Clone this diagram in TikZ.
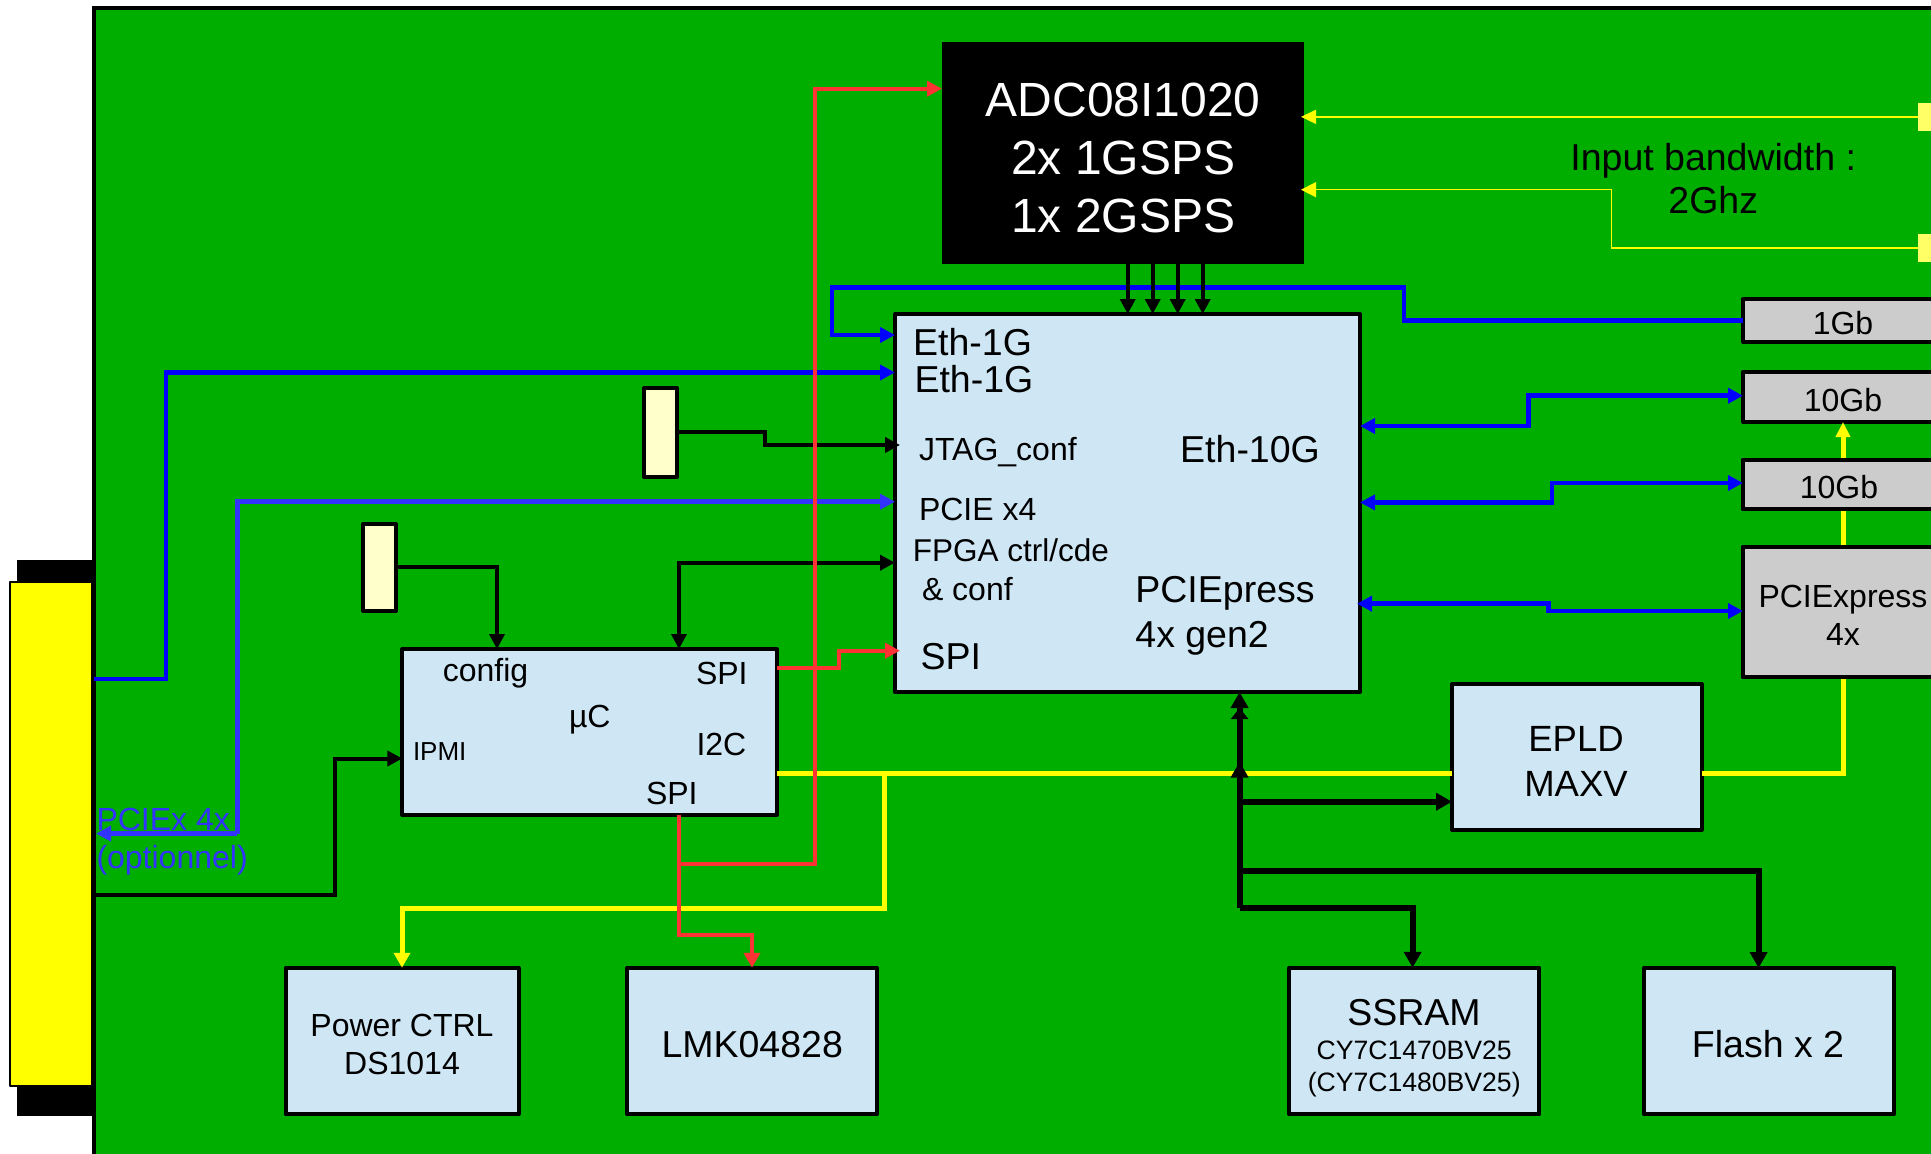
\documentclass[tikz,border=0pt]{standalone}
\usepackage{fontspec}
\setmainfont{Liberation Sans}
\usetikzlibrary{arrows.meta}
\definecolor{boardgreen}{HTML}{00AE00}
\definecolor{chipblue}{HTML}{CFE7F5}
\definecolor{portgrey}{HTML}{CCCCCC}
\definecolor{cfgyellow}{HTML}{FFFFCC}
\definecolor{sigyellow}{HTML}{FFFF00}
\definecolor{sqyellow}{HTML}{FFFF66}
\definecolor{purered}{HTML}{FF3333}
\definecolor{pureblue}{HTML}{0000FF}
\definecolor{softblue}{HTML}{3333FF}
\tikzset{
  x=1pt,y=-1pt,
  every node/.style={inner sep=0pt,outer sep=0pt},
  rectn/.style={draw=black,line width=4pt,line join=round,minimum width=#1},
  chip/.style={rectn=#1,fill=chipblue},
  port/.style={rectn=#1,fill=portgrey},
  cfgbox/.style={rectn=33,fill=cfgyellow},
  hgt/.style={minimum height=#1},
  fa/.style={font=\fontsize{37.5}{43}\selectfont},
  fb/.style={font=\fontsize{32}{37.5}\selectfont},
  fc/.style={font=\fontsize{26.6}{32}\selectfont},
  lw/.style={anchor=base west},
  lc/.style={anchor=base},
  tipS/.tip={Triangle[length=15pt,width=15pt]},
  tipB/.tip={Triangle[length=16pt,width=17pt]},
  wblue/.style={draw=pureblue,line width=4.5pt,line join=miter},
  wsoft/.style={draw=softblue,line width=5pt},
  wblack/.style={draw=black,line width=4pt},
  wbus/.style={draw=black,line width=6pt},
  wred/.style={draw=purered,line width=4pt},
  wyel/.style={draw=sigyellow,line width=5pt},
  wthin/.style={draw=sigyellow,line width=1.5pt},
}
\begin{document}
\begin{tikzpicture}
\useasboundingbox (0,0) rectangle (1931,1154);
\clip (0,0) rectangle (1931,1154);
% connector and board
\node[fill=black,minimum width=77,minimum height=556] (shell) at (55.5,838) {};
\node[draw=black,line width=2.5pt,line join=round,fill=sigyellow,minimum width=82,minimum height=504] (edge) at (51,834) {};
\node[draw=black,line width=4pt,fill=boardgreen,minimum width=1866,minimum height=1162.5] (board) at (1027,588.75) {};
% blocks
\node[chip=465,hgt=378] (fpga) at (1127.5,503) {};
\node[fill=black,minimum width=361.5,minimum height=222] (adc) at (1122.75,153) {};
\node[chip=374.3,hgt=166] (uc) at (589.5,732) {};
\node[cfgbox,hgt=89] (cfga) at (660.5,432.5) {};
\node[cfgbox,hgt=87] (cfgb) at (379.5,567.5) {};
\node[chip=233,hgt=146.5] (power) at (402,1041) {};
\node[chip=250,hgt=146.5] (lmk) at (752,1041) {};
\node[chip=250,hgt=146.5] (ssram) at (1414.4,1041) {};
\node[chip=250,hgt=146.5] (flash) at (1769,1041) {};
\node[chip=249.6,hgt=146] (epld) at (1576.8,757) {};
\node[port=202,hgt=43] (gba) at (1844,320.5) {};
\node[port=202,hgt=50] (gbb) at (1844,397) {};
\node[port=202,hgt=49] (gbc) at (1844,484.5) {};
\node[port=202,hgt=130] (pcix) at (1844,612) {};
\node[fill=sqyellow,minimum width=24,minimum height=28.5] (ina) at (1930,116.85) {};
\node[fill=sqyellow,minimum width=24,minimum height=28.5] (inb) at (1930,248) {};
% named junctions
\coordinate (trunk) at (1239.6,908);
\coordinate (redx) at (679,864.3);
\coordinate (yelx) at (884,773);
% yellow lines behind the ports
\draw[wyel,-{tipS[width=14pt]}] (epld.east |- yelx) -| (pcix.north -| 1843,0) -- (gbb.south -| 1843,0);
\draw[wyel] (uc.east |- yelx) -- (epld.west |- yelx);
\draw[wyel,-{tipS[width=16pt]}] (yelx) -- (884,908) -| (power.north);
\node[port=202,hgt=49] (gbcr) at (gbc) {};
\node[port=202,hgt=130] (pcixr) at (pcix) {};
% thin inputs
\draw[wthin,-{tipS[width=14pt]}] (ina.west) -- (1301,116.85);
\draw[wthin,-{tipS[width=15pt]}] (inb.west) -| (1611.6,189.7) -- (1301,189.7);
% blue
\draw[wblue,-{tipS}] (gba.west) -| (1404,287.7) -| (832,335) -- (fpga.west |- 0,335);
\draw[wblue,-{tipS}] (board.west |- 0,679) -| (166,372.5) -- (fpga.west |- 0,372.5);
\draw[wsoft,-{tipS}] (237,833.6) -- (96,833.6);
\draw[wsoft,-{tipS}] (237,833.6) |- (fpga.west |- 0,501.7);
\draw[wblue,{tipS}-{tipS}] (fpga.east |- 0,426) -| (1528.7,395.7) -- (gbb.west |- 0,395.7);
\draw[wblue,{tipS}-{tipS}] (fpga.east |- 0,502.4) -| (1552,483) -- (gbc.west |- 0,483);
\draw[wblue,{tipS}-{tipS}] (1357,603.7) -| (1548.7,611) -- (pcix.west |- 0,611);
% black
\foreach \px in {1127.7,1152.7,1177.7,1202.7}
  \draw[wblack,-{tipS}] (adc.south -| \px,0) -- (fpga.north -| \px,0);
\draw[wblack,-{tipS}] (cfga.east |- 0,432) -| (765,445) -- (900,445);
\draw[wblack,{tipS}-{tipS}] (uc.north -| 679,0) |- (fpga.west |- 0,562.7);
\draw[wblack,-{tipS}] (cfgb.east |- 0,567) -| (uc.north -| 497,0);
\draw[wblack,-{tipS}] (board.west |- 0,894.5) -| (334.5,758.5) -- (uc.west |- 0,758.5);
% bus
\draw[wbus,-{tipB}] (trunk) -- (1239.6,761.7);
\draw[wbus,-{tipB[length=11pt] tipB}] (1239.6,800) -- (fpga.south -| trunk);
\draw[wbus,-{tipB}] (1239.6,801.7) -- (epld.west |- 0,801.7);
\draw[wbus,-{tipB}] (1239.6,871) -| (1758.6,968);
\draw[wbus,-{tipB}] (trunk) -| (ssram.north -| 1412.6,0);
% red
\draw[wred,-{tipS[width=16pt]}] (uc.south -| redx) -- (679,935) -| (lmk.north);
\draw[wred,-{tipS}] (redx) -| (815,88.7) -- (adc.west |- 0,88.7);
\draw[wred,-{tipS}] (uc.east |- 0,667.7) -| (838.7,650.7) -- (900,650.7);
% text
\node[font=\fontsize{48}{58}\selectfont,text=white,align=center,lc] (adcl) at (1123.2,232.7) {ADC08I1020\\2x 1GSPS\\1x 2GSPS};
\node[fa,align=center,lc] (bw) at (1713.2,213.5) {Input bandwidth :\\2Ghz};
\node[fa,lw] (etha) at (913.2,355) {Eth-1G};
\node[fa,lw] (ethb) at (914.5,392.7) {Eth-1G};
\node[fb,lw] (jtag) at (919,460) {JTAG\_conf};
\node[fa,lw] (ethx) at (1180.2,462.7) {Eth-10G};
\node[fb,lw] (pcie) at (919,520) {PCIE x4};
\node[font=\fontsize{31.5}{37.5}\selectfont,lw] (ctrl) at (912.8,561.7) {FPGA ctrl/cde};
\node[fb,lw] (conf) at (922,600.3) {\& conf};
\node[fa,lw] (pcip) at (1135.4,602.7) {PCIEpress};
\node[fa,lw] (gen) at (1135.4,647.7) {4x gen2};
\node[fa,lw] (spif) at (920.5,669) {SPI};
\node[fb,lw] (cfgl) at (442.8,681) {config};
\node[fb,lw] (spia) at (696,684) {SPI};
\node[fb,lw] (mu) at (569,727.7) {µC};
\node[fb,lw] (itc) at (696.5,755) {I2C};
\node[fb,lw] (spib) at (646,804) {SPI};
\node[font=\fontsize{26}{30}\selectfont,lw] (ipmi) at (413,760) {IPMI};
\node[fb,align=center,lc] (powl) at (402,1074.4) {Power CTRL\\DS1014};
\node[fa,lc] (lmkl) at (752.2,1057) {LMK04828};
\node[fa,lc] (ssr) at (1414,1025) {SSRAM};
\node[fc,align=center,lc] (cyp) at (1414.2,1091) {CY7C1470BV25\\(CY7C1480BV25)};
\node[fa,lc] (fll) at (1768,1057) {Flash x 2};
\node[font=\fontsize{36.5}{45}\selectfont,align=center,lc] (epl) at (1576,796.7) {EPLD\\MAXV};
\node[fb,lc] (gl) at (1843,334) {1Gb};
\node[fb,lc] (gl2) at (1843,411.7) {10Gb};
\node[fb,lc] (gl3) at (1839,498) {10Gb};
\node[fb,align=center,lc] (pl) at (1843,645) {PCIExpress\\4x};
\node[fb,align=left,lw,text=softblue] (opt) at (96.5,868) {PCIEx 4x\\(optionnel)};
\end{tikzpicture}
\end{document}
